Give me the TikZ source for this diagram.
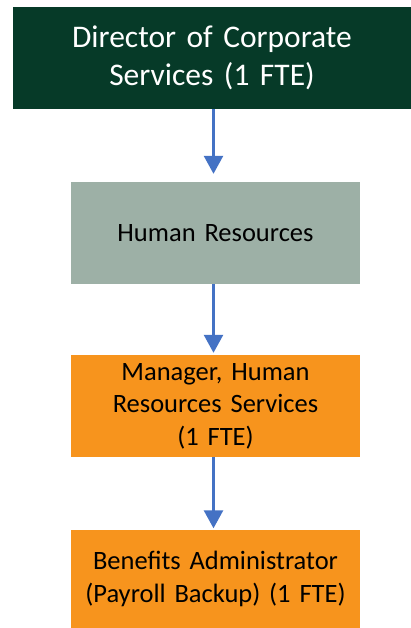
\documentclass[tikz,border=0pt]{standalone}
\usepackage{fontspec}
\setmainfont{Carlito}
\usetikzlibrary{arrows.meta}
\definecolor{dgreen}{HTML}{063A28}
\definecolor{sage}{HTML}{9DB0A6}
\definecolor{orng}{HTML}{F7941D}
\definecolor{arrblue}{HTML}{4472C4}
\begin{document}
\begin{tikzpicture}[x=1pt,y=-1pt,
  box/.style={rectangle,inner sep=0pt,align=center,minimum width=289pt,minimum height=102pt,text width=285pt},
  arr/.style={draw=arrblue,line width=2.7pt,-{Triangle[width=19pt,length=18pt]}}]
\useasboundingbox (0,0) rectangle (411,628);
\node[box,fill=dgreen,text=white,minimum width=398pt,text width=390pt,font=\fontsize{31.5}{37.5}\selectfont] (top) at (212,58) {Director of Corporate\\Services (1 FTE)};
\node[box,fill=sage,font=\fontsize{26.5}{32.5}\selectfont] (hr) at (215.5,233) {Human Resources};
\node[box,fill=orng,font=\fontsize{26.5}{32.5}\selectfont] (mgr) at (215.5,406) {Manager, Human\\Resources Services\\(1 FTE)};
\node[box,fill=orng,minimum height=99pt,font=\fontsize{26.5}{32.5}\selectfont] (ben) at (215.5,579) {Benefits Administrator\\(Payroll Backup) (1 FTE)};
\coordinate (ax) at (213.5,0);
\draw[arr,shorten >=8pt] (top.south -| ax) -- (hr.north -| ax);
\draw[arr,shorten >=2pt] (hr.south -| ax) -- (mgr.north -| ax);
\draw[arr,shorten >=1pt] (mgr.south -| ax) -- (ben.north -| ax);
\end{tikzpicture}
\end{document}
